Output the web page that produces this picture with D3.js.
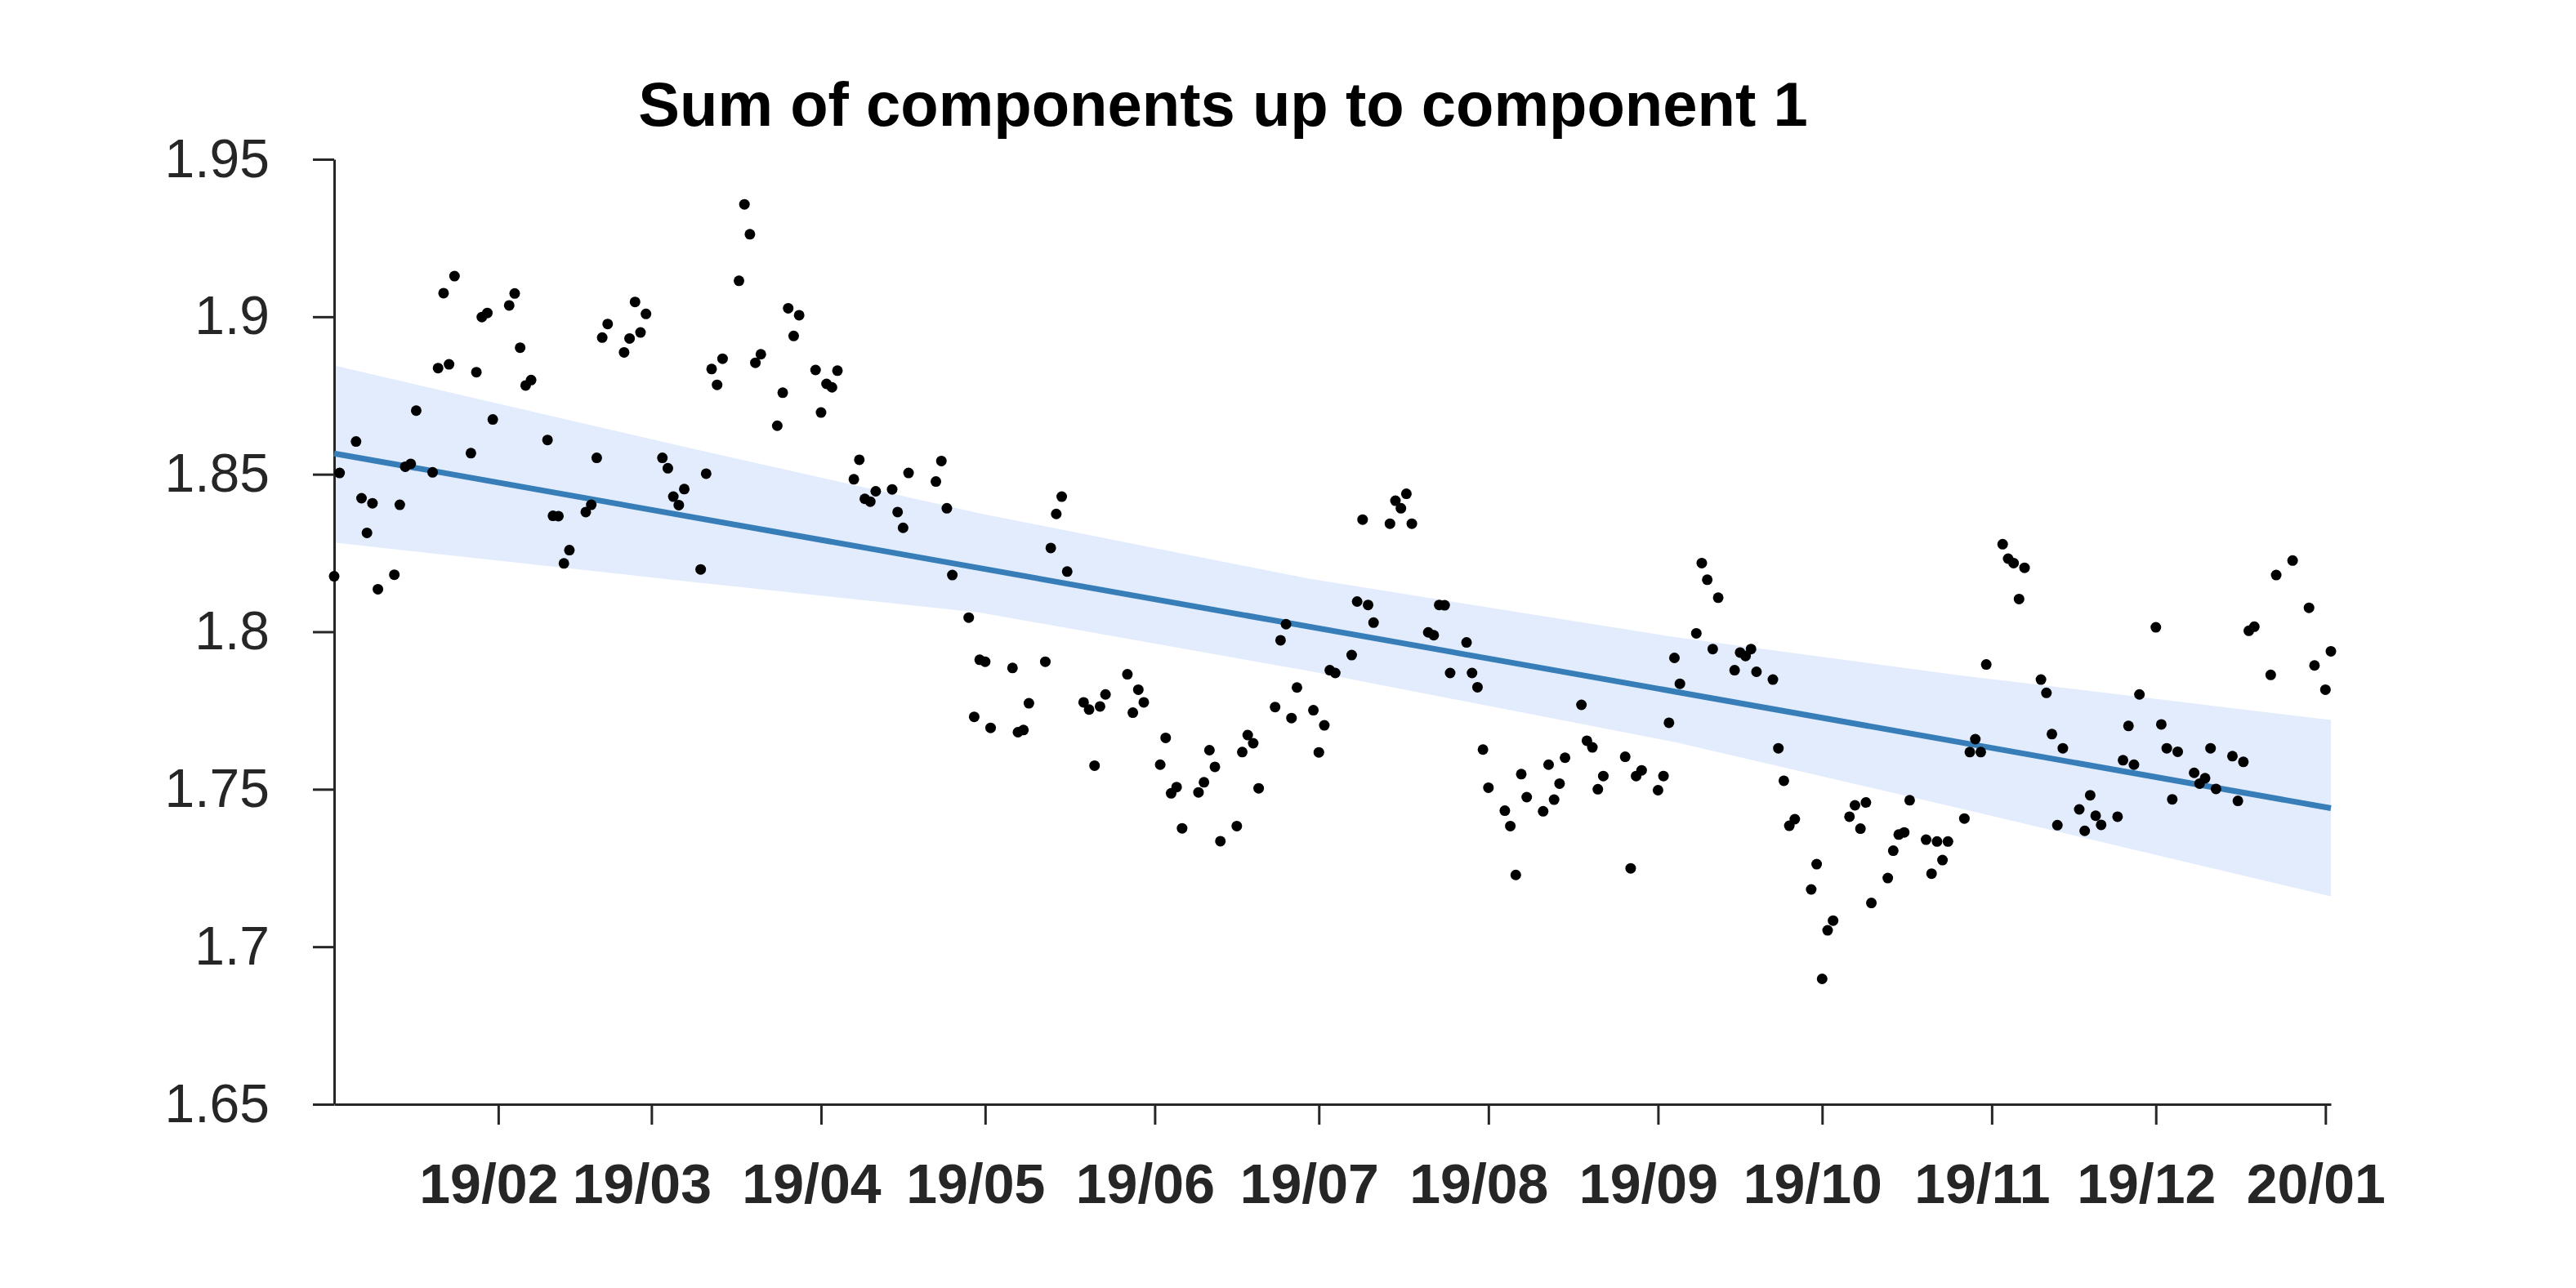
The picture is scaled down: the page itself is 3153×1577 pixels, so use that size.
<!DOCTYPE html>
<html><head><meta charset="utf-8">
<script src="https://cdn.jsdelivr.net/npm/d3@7"></script>
<style>html,body{margin:0;padding:0;background:#fff;} svg{display:block;}</style>
</head><body>
<svg id="chart" width="3153" height="1577"></svg>
<script>
// ---- data ----
const chartTitle = "Sum of components up to component 1";
// day of year 2019 (0 = 1 Jan 2019) of each observation
const dayOfYear = [
  1,2,5,6,7,8,9,12,13,14,15,16,19,20,21,22,23,26,27,28,29,30,
  33,34,35,36,37,40,41,42,43,44,47,48,49,50,51,54,55,56,57,58,
  61,62,63,64,65,68,69,70,71,72,75,76,77,78,79,82,83,84,85,86,
  89,90,91,92,93,96,97,98,99,100,103,104,105,106,111,112,113,114,
  117,118,119,120,121,125,126,127,128,131,132,133,134,135,
  138,139,140,141,142,146,147,148,149,152,153,154,155,156,
  159,160,161,162,163,166,167,168,169,170,173,174,175,176,177,
  180,181,182,183,184,187,188,189,190,191,194,195,196,197,198,
  201,202,203,204,205,208,209,210,211,212,215,216,217,218,219,
  222,223,224,225,226,229,230,231,232,233,237,238,239,240,
  243,244,245,246,247,250,251,252,253,254,257,258,259,260,261,
  264,265,266,267,268,271,272,273,274,275,278,279,280,281,282,
  285,286,287,288,289,292,293,294,295,296,299,300,301,302,303,
  306,307,308,309,310,313,314,315,316,317,320,321,322,323,324,
  327,328,329,330,331,334,335,336,337,338,341,342,343,344,345,
  348,349,350,351,352,355,356,359,362,363,365,366
];
const values = [
  1.8176,1.8504,1.8604,1.8424,1.8314,1.8408,1.8135,1.8181,1.8403,1.8524,1.8533,1.8702,1.8506,1.8837,1.9075,1.8849,1.9129,1.8567,1.8824,1.8999,1.9012,1.8674,
  1.9036,1.9074,1.8902,1.8782,1.8799,1.8609,1.8368,1.8367,1.8217,1.8259,1.8380,1.8403,1.8552,1.8934,1.8977,1.8887,1.8931,1.9047,1.8950,1.9009,
  1.8552,1.8519,1.8429,1.8402,1.8453,1.8198,1.8502,1.8834,1.8784,1.8867,1.9114,1.9357,1.9262,1.8854,1.8881,1.8654,1.8759,1.9027,1.8939,1.9005,
  1.8831,1.8696,1.8787,1.8776,1.8829,1.8484,1.8546,1.8422,1.8413,1.8446,1.8452,1.8380,1.8330,1.8504,1.8477,1.8542,1.8392,1.8180,
  1.8045,1.7730,1.7911,1.7905,1.7695,1.7885,1.7681,1.7688,1.7773,1.7905,1.8266,1.8374,1.8429,1.8191,
  1.7776,1.7753,1.7575,1.7763,1.7801,1.7865,1.7743,1.7816,1.7776,1.7578,1.7663,1.7487,1.7507,1.7376,
  1.7490,1.7522,1.7624,1.7571,1.7335,1.7383,1.7618,1.7672,1.7646,1.7503,1.7761,1.7973,1.8024,1.7726,1.7823,
  1.7751,1.7617,1.7703,1.7878,1.7869,1.7926,1.8096,1.8356,1.8085,1.8029,1.8343,1.8416,1.8392,1.8438,1.8343,
  1.7998,1.7989,1.8085,1.8084,1.7869,1.7966,1.7869,1.7824,1.7626,1.7505,1.7432,1.7383,1.7228,1.7548,1.7475,
  1.7430,1.7578,1.7467,1.7518,1.7600,1.7768,1.7654,1.7633,1.7500,1.7542,1.7603,1.7249,1.7542,1.7560,
  1.7497,1.7542,1.7711,1.7917,1.7835,1.7995,1.8218,1.8165,1.7945,1.8108,1.7878,1.7934,1.7923,1.7945,1.7873,
  1.7848,1.7630,1.7527,1.7384,1.7405,1.7182,1.7262,1.6898,1.7052,1.7083,1.7413,1.7449,1.7375,1.7458,1.7139,
  1.7218,1.7305,1.7356,1.7363,1.7465,1.7340,1.7232,1.7334,1.7275,1.7334,1.7407,1.7618,1.7659,1.7618,1.7896,
  1.8278,1.8232,1.8218,1.8104,1.8203,1.7848,1.7806,1.7675,1.7386,1.7630,1.7436,1.7368,1.7481,1.7416,1.7387,
  1.7413,1.7592,1.7701,1.7578,1.7801,1.8014,1.7706,1.7630,1.7468,1.7619,1.7552,1.7518,1.7535,1.7630,1.7501,
  1.7605,1.7463,1.7587,1.8003,1.8016,1.7863,1.8180,1.8226,1.8076,1.7893,1.7816,1.7938
];
// confidence band and trend line
const bandDays  = [1, 64, 119, 179, 246, 298, 366];
const bandUpper = [1.8845, 1.8591, 1.8376, 1.8169, 1.7983, 1.7862, 1.7720];
const bandLower = [1.8283, 1.8163, 1.8061, 1.7876, 1.7650, 1.7440, 1.7160];
const trendDays   = [1, 366];
const trendValues = [1.8566, 1.7440];
// axes
const yTicks = [1.65, 1.7, 1.75, 1.8, 1.85, 1.9, 1.95];
const yTickLabels = ["1.65", "1.7", "1.75", "1.8", "1.85", "1.9", "1.95"];
const xTickDates = ["2019-02-01","2019-03-01","2019-04-01","2019-05-01","2019-06-01","2019-07-01",
                    "2019-08-01","2019-09-01","2019-10-01","2019-11-01","2019-12-01","2020-01-01"];
const xTickLabels = ["19/02","19/03","19/04","19/05","19/06","19/07","19/08","19/09","19/10","19/11","19/12","20/01"];

// ---- drawing ----
const base = new Date(2019, 0, 1);
const toDate = d => d3.timeDay.offset(base, d);
const parse = d3.timeParse("%Y-%m-%d");

const svg = d3.select("#chart");
svg.append("rect").attr("width", 3153).attr("height", 1577).attr("fill", "#fff");

const x = d3.scaleTime().domain([toDate(1), toDate(366)]).range([409, 2853]);
const y = d3.scaleLinear().domain([1.65, 1.95]).range([1352, 195]);

const FONT = "'Liberation Sans', Arial, Helvetica, sans-serif";
const AXC = "#262626";

// band
const band = bandDays.map((d, i) => ({d, lo: bandLower[i], hi: bandUpper[i]}));
svg.append("path").datum(band)
  .attr("fill", "#e3ecfd")
  .attr("d", d3.area().x(p => x(toDate(p.d))).y0(p => y(p.lo)).y1(p => y(p.hi)));

// axes
const yAxis = d3.axisLeft(y).tickValues(yTicks).tickFormat((d, i) => yTickLabels[i])
  .tickSize(26).tickSizeOuter(0).tickPadding(53);
const gy = svg.append("g").attr("transform", "translate(409,0)").call(yAxis);
gy.select(".domain").attr("stroke", AXC).attr("stroke-width", 3);
gy.selectAll(".tick line").attr("stroke", AXC).attr("stroke-width", 3);
gy.selectAll(".tick text").attr("fill", AXC).style("font-family", FONT).style("font-size", "66px");

const xAxis = d3.axisBottom(x).tickValues(xTickDates.map(parse)).tickFormat((d, i) => xTickLabels[i])
  .tickSize(25).tickSizeOuter(0).tickPadding(48);
const gx = svg.append("g").attr("transform", "translate(0,1352)").call(xAxis);
gx.select(".domain").attr("stroke", AXC).attr("stroke-width", 3);
gx.selectAll(".tick line").attr("stroke", AXC).attr("stroke-width", 3);
gx.selectAll(".tick text").attr("fill", AXC).attr("dx", -12)
  .style("font-family", FONT).style("font-size", "68px").style("font-weight", "bold");

// trend line
const trend = trendDays.map((d, i) => ({d, v: trendValues[i]}));
svg.append("path").datum(trend)
  .attr("fill", "none").attr("stroke", "#377eb8").attr("stroke-width", 7)
  .attr("d", d3.line().x(p => x(toDate(p.d))).y(p => y(p.v)));

// points
const pts = dayOfYear.map((d, i) => ({d, v: values[i]}));
svg.append("g").selectAll("circle").data(pts).join("circle")
  .attr("cx", p => x(toDate(p.d))).attr("cy", p => y(p.v)).attr("r", 6.5).attr("fill", "#000");

// title
svg.append("text").attr("x", 1497).attr("y", 154).attr("text-anchor", "middle")
  .style("font-family", FONT).style("font-size", "76px").style("font-weight", "bold")
  .attr("fill", "#000").text(chartTitle);
</script>
</body></html>
